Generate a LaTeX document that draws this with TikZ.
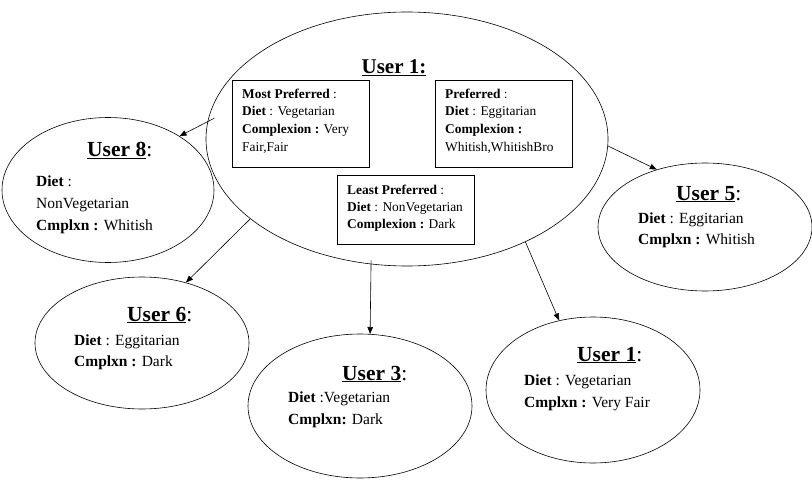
\documentclass[tikz,border=0pt]{standalone}
\usepackage{fontspec}
\setmainfont{Liberation Serif}
\usetikzlibrary{shapes.geometric,arrows.meta}
\begin{document}
\begin{tikzpicture}[x=1pt,y=-1pt,
 ell/.style={draw, ellipse, inner sep=0pt, line width=0.6pt},
 rbox/.style={draw, rectangle, inner sep=0pt, line width=0.9pt},
 bt/.style={anchor=base west, inner sep=0pt, font=\fontsize{13.4}{16}\selectfont},
 ut/.style={anchor=base west, inner sep=0pt, font=\fontsize{15.5}{18}\selectfont},
 tt/.style={anchor=base west, inner sep=0pt, font=\fontsize{21.5}{24}\selectfont},
 arr/.style={-{Triangle[length=7pt,width=5.5pt]}, line width=0.6pt}]
\useasboundingbox (0,0) rectangle (812,487);

% ellipses
\node[ell, minimum width=402, minimum height=254] (big) at (407,139) {};
\node[ell, minimum width=212, minimum height=145] (u8) at (108,190) {};
\node[ell, minimum width=214, minimum height=128] (u5) at (705,227) {};
\node[ell, minimum width=214, minimum height=132] (u6) at (142,343) {};
\node[ell, minimum width=224, minimum height=144] (u3) at (360,406) {};
\node[ell, minimum width=214, minimum height=146] (u1b) at (593,390) {};

% boxes in big ellipse
\node[rbox, minimum width=137, minimum height=87] (mp) at (300.5,123.5) {};
\node[rbox, minimum width=137, minimum height=87] (pp) at (503.5,123.5) {};
\node[rbox, minimum width=137, minimum height=69] (lp) at (405.5,209.5) {};

% big title
\node[anchor=base, inner sep=0pt, font=\fontsize{21}{24}\selectfont] (bigt) at (394,74) {\underline{\textbf{User 1:}}};

% most preferred
\node[bt] (mp1) at (242,99) {\textbf{Most Preferred} :};
\node[bt] (mp2) at (242,116) {\textbf{Diet} : Vegetarian};
\node[bt] (mp3) at (242,133) {\textbf{Complexion :} Very};
\node[bt] (mp4) at (242,151) {Fair,Fair};
% preferred
\node[bt] (pp1) at (445,99) {\textbf{Preferred} :};
\node[bt] (pp2) at (445,116) {\textbf{Diet} : Eggitarian};
\node[bt] (pp3) at (445,133) {\textbf{Complexion :}};
\node[bt] (pp4) at (445,151) {Whitish,WhitishBro};
% least preferred
\node[bt] (lp1) at (347,194) {\textbf{Least Preferred} :};
\node[bt] (lp2) at (347,211) {\textbf{Diet} : NonVegetarian};
\node[bt] (lp3) at (347,228) {\textbf{Complexion :} Dark};

% user 8
\node[tt] (u8t) at (87,157) {\underline{\textbf{User 8}}:};
\node[ut] (u8a) at (36,186) {\textbf{Diet} :};
\node[ut] (u8b) at (36,208) {NonVegetarian};
\node[ut] (u8c) at (36,230) {\textbf{Cmplxn :} Whitish};
% user 5
\node[tt] (u5t) at (676,200) {\underline{\textbf{User 5}}:};
\node[ut] (u5a) at (638,223) {\textbf{Diet} : Eggitarian};
\node[ut] (u5b) at (638,244) {\textbf{Cmplxn :} Whitish};
% user 6
\node[tt] (u6t) at (127,321) {\underline{\textbf{User 6}}:};
\node[ut] (u6a) at (74,345) {\textbf{Diet} : Eggitarian};
\node[ut] (u6b) at (74,366) {\textbf{Cmplxn :} Dark};
% user 3
\node[tt] (u3t) at (342,380) {\underline{\textbf{User 3}}:};
\node[ut] (u3a) at (288,402) {\textbf{Diet} :Vegetarian};
\node[ut] (u3b) at (288,424) {\textbf{Cmplxn:} Dark};
% user 1 (bottom right)
\node[tt] (u1bt) at (577,361) {\underline{\textbf{User 1}}:};
\node[ut] (u1ba) at (524,385) {\textbf{Diet} : Vegetarian};
\node[ut] (u1bb) at (524,407) {\textbf{Cmplxn :} Very Fair};

% connectors
\draw[arr] ([xshift=6pt]big.174) -- (u8.37);
\draw[arr] (big.207) -- (u6.54);
\draw[arr] ([yshift=4pt]big.254) -- (u3.82);
\draw[arr] (big.319) -- (u1b.116);
\draw[arr] (big.358) -- (u5.130);
\end{tikzpicture}
\end{document}
